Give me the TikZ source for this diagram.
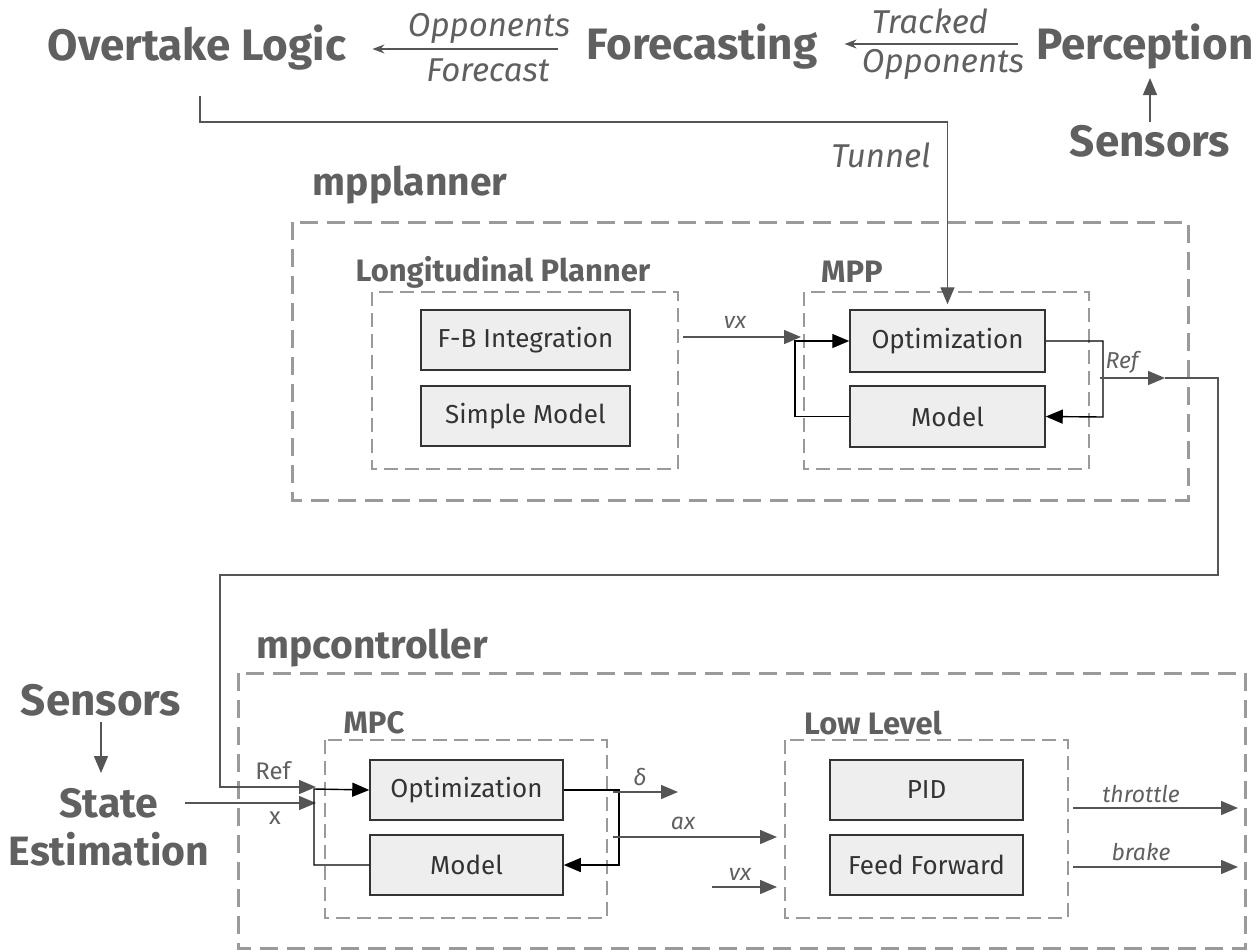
\documentclass[tikz,border=0pt]{standalone}
\usepackage{fontspec}
\setmainfont{Fira Sans}
\usetikzlibrary{arrows.meta}
\definecolor{gristxt}{HTML}{606060}
\definecolor{grisdash}{HTML}{9A9A9A}
\definecolor{grislin}{HTML}{555555}
\definecolor{relleno}{HTML}{EEEEEE}

\begin{document}
\begin{tikzpicture}[x=1pt,y=-1pt,
    titulo/.style={inner sep=0, text=gristxt, font=\bfseries\fontsize{44}{48}\selectfont},
    grupo/.style={inner sep=0, text=gristxt, font=\bfseries\fontsize{39}{42}\selectfont},
    subgrupo/.style={inner sep=0, text=gristxt, font=\bfseries\fontsize{31}{34}\selectfont},
    caja/.style={draw=black!80, line width=1.5pt, fill=relleno, minimum width=195, minimum height=60,
        font=\fontsize{26}{30}\selectfont, text=black!80},
    etiq/.style={inner sep=0, text=gristxt, font=\itshape\fontsize{33}{36}\selectfont},
    etiqp/.style={inner sep=0, text=gristxt, font=\itshape\fontsize{23}{26}\selectfont},
    borde/.style={draw=grisdash, line width=3pt, dash pattern=on 18pt off 9pt},
    bordein/.style={draw=grisdash, line width=2.4pt, dash pattern=on 14pt off 7pt},
    linea/.style={draw=grislin, line width=1.4pt},
    flecha/.style={linea, -{Triangle[length=17pt,width=14pt]}},
    lazo/.style={draw=black, line width=1.4pt, -{Triangle[length=17pt,width=14pt]}}
]
\useasboundingbox (0,0) rectangle (1258,951);

% Cadena superior
\node[titulo] (overtake) at (197,48) {Overtake Logic};
\node[titulo] (forecast) at (702,47) {Forecasting};
\node[titulo] (percep) at (1145,47) {Perception};
\node[titulo] (sensA) at (1150,141) {Sensors};
\draw[linea, -{Stealth[length=12pt,width=9pt]}, shorten <=28, shorten >=26] (forecast.west |- 0,49) -- (overtake.east |- 0,49);
\node[etiq] at (489,28) {Opponents};
\node[etiq] at (488,70) {Forecast};
\draw[linea, -{Stealth[length=12pt,width=9pt]}, shorten <=18, shorten >=27] (percep.west |- 0,44) -- (forecast.east |- 0,44);
\node[etiq] at (930,21) {Tracked};
\node[etiq] at (943,64) {Opponents};
\coordinate (sA) at (1150,122);
\draw[flecha] (sA) -- (sA |- 0,78);

% mpplanner
\node[grupo] (mpplanner) at (410,185) {mpplanner};
\draw[borde] (292,222) rectangle (1188,500);
\node[subgrupo] (longlab) at (503,272) {Longitudinal Planner};
\draw[bordein] (372,292) rectangle (678,469);
\node[caja, minimum width=209] (fb) at (525.5,340) {F-B Integration};
\node[caja, minimum width=209] (simple) at (525.5,416) {Simple Model};
\node[subgrupo] (mpplab) at (852,272) {MPP};
\draw[bordein] (804,292) rectangle (1089,469);
\node[caja, minimum height=62] (mppopt) at (947.5,341) {Optimization};
\node[caja, minimum height=61] (mppmod) at (947.5,416.5) {Model};

% Tunnel
\coordinate (tun) at (200,96);
\draw[flecha] (tun) |- (947.5,122) -- ([yshift=5]mppopt.north);
\node[etiq] at (881,155) {Tunnel};

% vx hacia MPP
\coordinate (vxA) at (683,337);
\draw[flecha] (vxA) -- (801,337);
\node[etiqp] at (735,322) {vx};
% lazo MPP
\draw[lazo] (mppmod.west) -| (795,341) -- (mppopt.west);
\draw[lazo] (mppopt.east) -| (1103,417) -- (mppmod.east);
\coordinate (refA) at (1100,378);
\coordinate (refB) at (1165,378);
\draw[flecha] (refA) -- (refB);
\node[etiqp] at (1122,362) {Ref};

% mpcontroller
\node[grupo] (mpcontroller) at (372,648) {mpcontroller};
\draw[borde] (238,673) rectangle (1245,948);
\node[titulo] (sensB) at (101,700) {Sensors};
\node[titulo, align=center, font=\bfseries\fontsize{41}{48}\selectfont] (state) at (109,827) {State\\Estimation};
\coordinate (sB) at (101,722);
\draw[flecha] (sB) -- (sB |- 0,773);

\node[subgrupo] (mpclab) at (374,723) {MPC};
\draw[bordein] (325,740) rectangle (607,918);
\node[caja, minimum width=193] (mpcopt) at (466.5,790) {Optimization};
\node[caja, minimum width=193] (mpcmod) at (466.5,865) {Model};

% Ref de MPP a MPC
\coordinate (refC) at (316,787);
\draw[flecha] (refB) -| (1218,575) -| (220,787) -- (refC);
\node[inner sep=0, text=gristxt, font=\fontsize{24}{26}\selectfont] at (273,771) {Ref};
\coordinate (xA) at (316,803);
\coordinate (xB) at (185,803);
\draw[flecha] (xB) -- (xA);
\node[inner sep=0, text=gristxt, font=\fontsize{24}{26}\selectfont] at (275,818) {x};
% lazo MPC
\draw[lazo] (mpcmod.west) -| (314,789) -- (mpcopt.west);
\draw[lazo] (mpcopt.east) -| (619,865) -- (mpcmod.east);

% Low Level
\node[subgrupo] (lowlab) at (873,723) {Low Level};
\draw[bordein] (785,740) rectangle (1068,918);
\node[caja, minimum width=193] (pid) at (926.5,790) {PID};
\node[caja, minimum width=193] (ff) at (926.5,865) {Feed Forward};

% salidas MPC
\coordinate (dA) at (613,792);
\coordinate (dB) at (678,792);
\draw[flecha] (dA) -- (dB);
\node[etiqp] at (640,777) {δ};
\coordinate (axA) at (613,837);
\coordinate (axB) at (777,837);
\draw[flecha] (axA) -- (axB);
\node[etiqp] at (683,823) {ax};
\coordinate (vxB) at (712,887);
\coordinate (vxC) at (777,887);
\draw[flecha] (vxB) -- (vxC);
\node[etiqp] at (740,874) {vx};

% salidas Low Level
\coordinate (thA) at (1073,808);
\coordinate (thB) at (1238,808);
\draw[flecha] (thA) -- (thB);
\node[etiqp] at (1141,794) {throttle};
\coordinate (brA) at (1073,867);
\coordinate (brB) at (1238,867);
\draw[flecha] (brA) -- (brB);
\node[etiqp] at (1141,852) {brake};
\end{tikzpicture}
\end{document}
